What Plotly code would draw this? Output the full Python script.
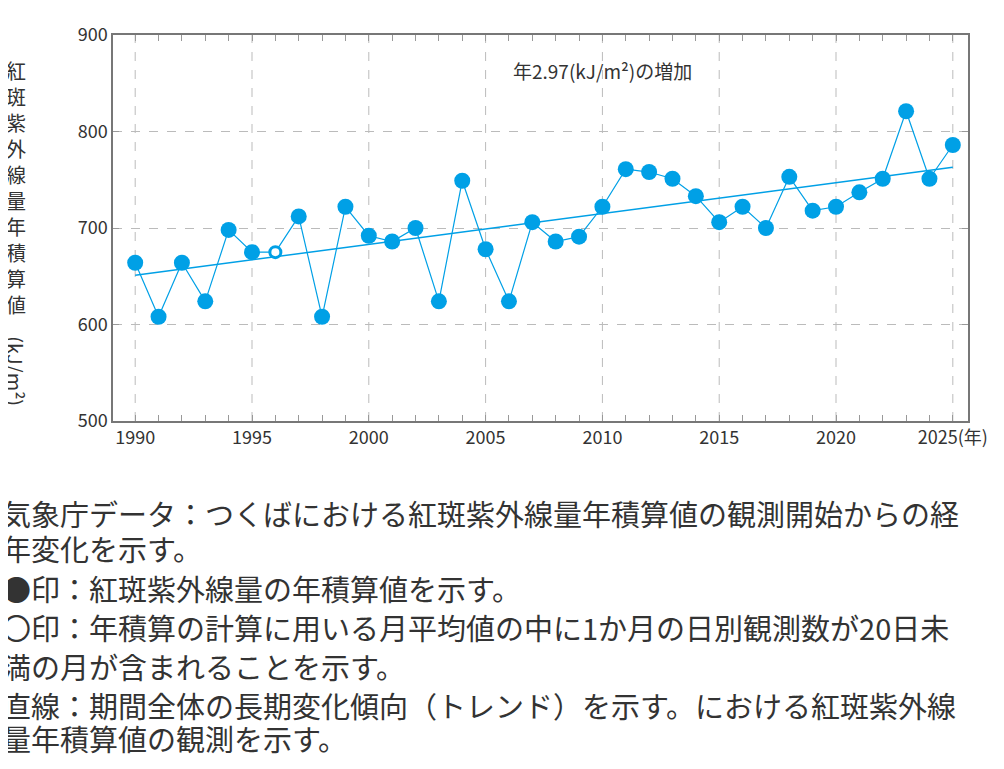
import plotly.graph_objects as go

years = list(range(1990, 2026))
values = [664, 608, 664, 624, 698, 675, 675, 712, 608, 722, 692, 686, 700, 624, 749, 678,
          624, 706, 686, 691, 722, 761, 758, 751, 733, 706, 722, 700, 753, 718, 722, 737,
          751, 821, 751, 786]
open_years = [1996]
trend_years = [1990, 2025]
trend_values = [651, 763]

notes = [
    "気象庁データ：つくばにおける紅斑紫外線量年積算値の観測開始からの経",
    "年変化を示す。",
    "●印：紅斑紫外線量の年積算値を示す。",
    "〇印：年積算の計算に用いる月平均値の中に1か月の日別観測数が20日未",
    "満の月が含まれることを示す。",
    "直線：期間全体の長期変化傾向（トレンド）を示す。における紅斑紫外線",
    "量年積算値の観測を示す。",
]
note_y = [515, 551, 592, 632, 672, 712, 746]

BLUE = '#00a0e6'
FONT = 'Noto Sans CJK JP'
OFF = 8  # page body margin

fill_x = [y for y in years if y not in open_years]
fill_y = [v for y, v in zip(years, values) if y not in open_years]
open_y = [v for y, v in zip(years, values) if y in open_years]

fig = go.Figure()
fig.add_trace(go.Scatter(x=trend_years, y=trend_values, mode='lines',
                         line=dict(color=BLUE, width=1.5), showlegend=False))
fig.add_trace(go.Scatter(x=years, y=values, mode='lines',
                         line=dict(color=BLUE, width=1.2), showlegend=False))
fig.add_trace(go.Scatter(x=fill_x, y=fill_y, mode='markers',
                         marker=dict(color=BLUE, size=16), showlegend=False))
fig.add_trace(go.Scatter(x=open_years, y=open_y, mode='markers',
                         marker=dict(color='white', size=11, line=dict(color=BLUE, width=3)),
                         showlegend=False))

axis = dict(showline=True, linecolor='#777', linewidth=1.5, mirror='allticks',
            ticks='inside', ticklen=6, tickcolor='#999', showgrid=True,
            gridcolor='#bbb', griddash='dash', gridwidth=1, zeroline=False,
            tickfont=dict(family=FONT, size=18, color='#333'))
fig.update_xaxes(**axis)
fig.update_xaxes(range=[1989.05, 2025.65], tickmode='array', tickvals=years,
                 ticktext=[('2025(年)' if y == 2025 else str(y)) if y % 5 == 0 else '' for y in years],
                 showgrid=False)
fig.update_yaxes(**axis)
fig.update_yaxes(range=[500, 900], dtick=100)
for y in years:
    if y % 5 == 0:
        fig.add_vline(x=y, line=dict(color='#bbb', width=1, dash='dash'), layer='below')

ann = [
    dict(x=2010, y=863, xref='x', yref='y', text='年2.97(kJ/m²)の増加', showarrow=False,
         font=dict(family=FONT, size=19, color='#333')),
    dict(x=-0.114, y=0.95, xref='paper', yref='paper', xanchor='center', yanchor='top',
         text='<br>'.join('紅斑紫外線量年積算値'), showarrow=False,
         font=dict(family=FONT, size=20, color='#333')),
    dict(x=-0.114, y=0.13, xref='paper', yref='paper', xanchor='center', yanchor='middle',
         text='(kJ/m²)', textangle=90, showarrow=False,
         font=dict(family=FONT, size=20, color='#333')),
]
# notes: page pixel positions converted to paper coords of the plot area
for t, py in zip(notes, note_y):
    ann.append(dict(x=(0 - 113) / (968 - 113), y=(421 - py) / (421 - 25),
                    xref='paper', yref='paper', text=t, showarrow=False,
                    xanchor='left', yanchor='middle',
                    font=dict(family=FONT, size=29, color='#333')))

fig.update_layout(width=1004 - OFF, height=769 - OFF,
                  margin=dict(l=113 - OFF, r=36, t=25 - OFF, b=348),
                  plot_bgcolor='white', paper_bgcolor='white', annotations=ann)
fig.write_html("out.html")
